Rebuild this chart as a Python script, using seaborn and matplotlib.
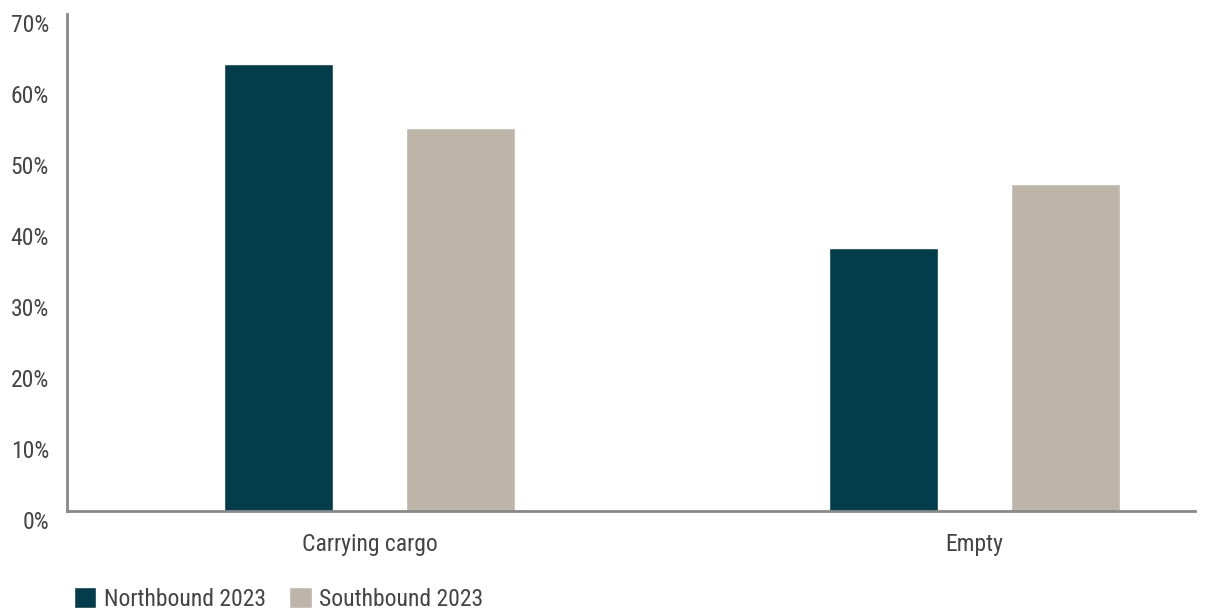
import matplotlib
matplotlib.use("Agg")
import matplotlib.pyplot as plt
import matplotlib.transforms as mtrans
import seaborn as sns
import pandas as pd
from matplotlib.patches import Patch

categories = ["Carrying cargo", "Empty"]
series_names = ["Northbound 2023", "Southbound 2023"]
northbound = [63, 37]
southbound = [54, 46]
yticks = [0, 10, 20, 30, 40, 50, 60, 70]
colors = ["#033c4a", "#bcb5a8"]

df = pd.DataFrame({
    "category": categories * 2,
    "series": [series_names[0]] * 2 + [series_names[1]] * 2,
    "value": northbound + southbound,
})

sns.set_theme(style="white")
plt.rcParams['font.family'] = ['Roboto Condensed', 'Lato', 'DejaVu Sans']

W, H = 1210, 610
fig = plt.figure(figsize=(W / 100, H / 100), dpi=100)
ax = fig.add_axes([67 / W, 1 - 511 / H, (1195 - 67) / W, (511 - 14) / H])
sns.barplot(data=df, x="category", y="value", hue="series", order=categories,
            hue_order=series_names, palette=colors, width=0.6, gap=0.4,
            saturation=1, ax=ax, legend=False)

txt = "#444444"
ax.set_xlim(-0.5, 1.364)
ax.set_ylim(0, 70)
ax.set_yticks(yticks)
ax.set_yticklabels([f"{t}%" for t in yticks], fontsize=17, color=txt)
ax.tick_params(axis="y", length=0, pad=13)
ax.tick_params(axis="x", length=0, pad=16, labelsize=17, labelcolor=txt)
offset = mtrans.ScaledTranslation(0, -9 / 100, fig.dpi_scale_trans)
for lab in ax.get_yticklabels():
    lab.set_transform(lab.get_transform() + offset)
ax.set_xlabel("")
ax.set_ylabel("")
for s in ["top", "right"]:
    ax.spines[s].set_visible(False)
for s in ["left", "bottom"]:
    ax.spines[s].set_color("#888888")
    ax.spines[s].set_linewidth(2)

handles = [Patch(facecolor=c, label=n) for c, n in zip(colors, series_names)]
fig.legend(handles=handles, loc="center left", bbox_to_anchor=(74 / W, 1 - 599 / H),
           ncol=2, frameon=False, fontsize=17, handlelength=0.95, handleheight=0.95,
           handletextpad=0.3, columnspacing=1.0, labelcolor=txt,
           borderaxespad=0, borderpad=0)

fig.savefig("out.png", dpi=100)
